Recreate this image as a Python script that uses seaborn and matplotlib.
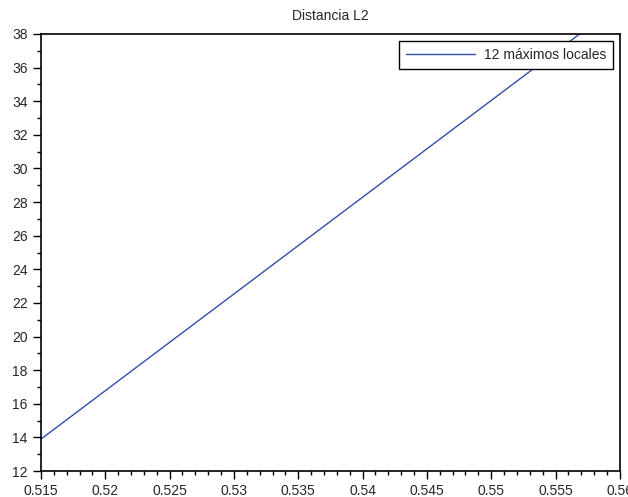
import matplotlib
matplotlib.use("Agg")
import matplotlib.pyplot as plt
import seaborn as sns
import pandas as pd
from matplotlib.ticker import MultipleLocator

# data
x_vals = [0.515, 0.56]
y_vals = [13.9, 39.8]
series_label = "12 máximos locales"

sns.set_style("ticks")
plt.rcParams["font.family"] = ["Liberation Sans", "DejaVu Sans"]

df = pd.DataFrame({"x": x_vals, "y": y_vals})

fig = plt.figure(figsize=(6.28, 4.97), dpi=100)
ax = fig.add_axes([0.0653, 0.0523, 0.9217, 0.8793])
sns.lineplot(data=df, x="x", y="y", ax=ax, color="#3050a8", linewidth=1.0, label=series_label)

ax.set_xlim(0.515, 0.56)
ax.set_ylim(12, 38)
ax.xaxis.set_major_locator(MultipleLocator(0.005))
ax.xaxis.set_minor_locator(MultipleLocator(0.001))
ax.yaxis.set_major_locator(MultipleLocator(2))
ax.yaxis.set_minor_locator(MultipleLocator(1))
ax.set_xticklabels([f"{v:g}" for v in ax.get_xticks()])
ax.tick_params(which="major", length=6, width=1, labelsize=10, color="black", direction="out")
ax.tick_params(which="minor", length=3, width=1, color="black", direction="out")
ax.tick_params(top=False, right=False, which="both")
for sp in ax.spines.values():
    sp.set_visible(True)
    sp.set_color("black")
    sp.set_linewidth(1.2)
ax.set_xlabel("")
ax.set_ylabel("")
ax.set_title("Distancia L2", fontsize=10, pad=10)

leg = ax.legend(loc="upper right", fontsize=10, frameon=True, fancybox=False,
                handlelength=5.0, handletextpad=0.6, borderpad=0.5,
                borderaxespad=0.5, framealpha=1)
leg.get_frame().set_edgecolor("black")
leg.get_frame().set_linewidth(1.0)

fig.savefig("out.png", dpi=100)
plt.close(fig)
